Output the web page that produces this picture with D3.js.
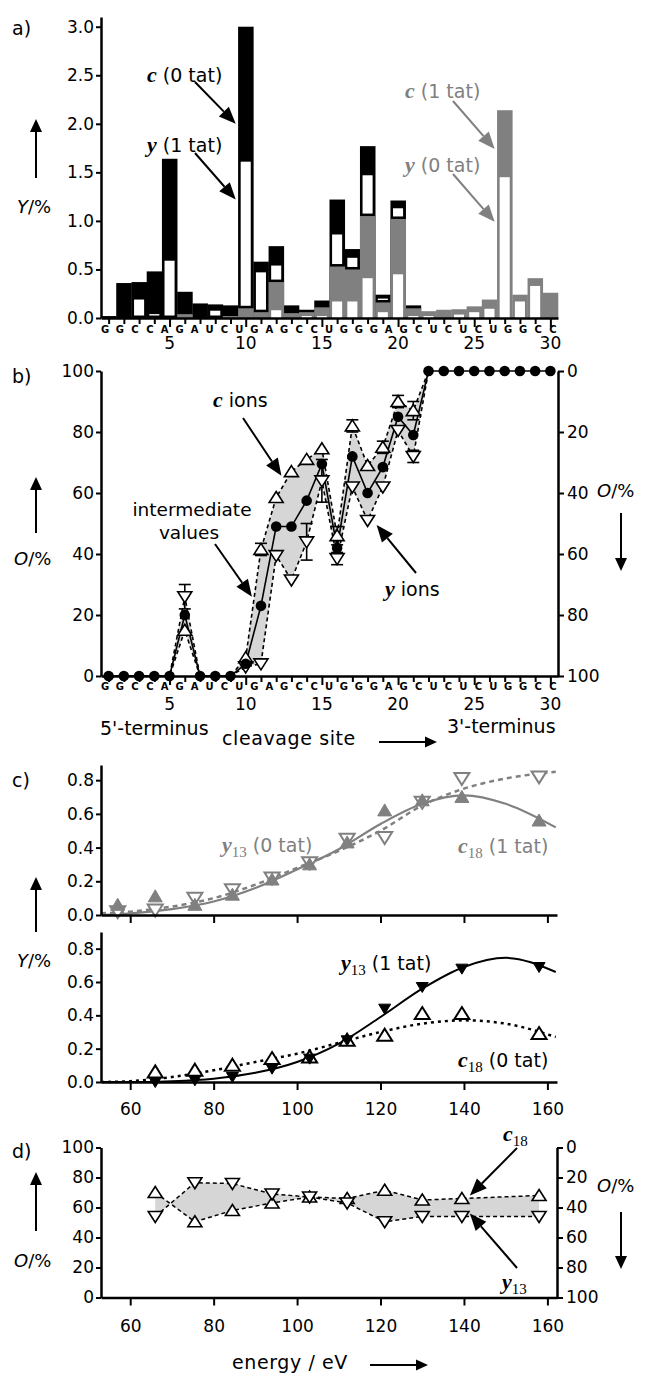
<!DOCTYPE html>
<meta charset="utf-8">
<style>
  body { margin: 0; background: #fff; }
  text { font-family: 'DejaVu Sans', sans-serif; }
</style>
<script src="https://d3js.org/d3.v7.min.js"></script>
<div id="chart"></div>
<script>
// ---------- data ----------
var seq = "GGCCAGAUCUGAGCCUGGGAGCUCUCUGGCC".split("");
var sites = d3.range(1, 31);
var siteLabels = [5, 10, 15, 20, 25, 30];

// a) yields Y/% per cleavage site
var c0tat = [0.02,0.36,0.37,0.48,1.64,0.27,0.15,0.14,0.13,3.0,0.58,0.74,0.13,0.085,0.18,1.22,0.71,1.77,0.24,1.21,0.13,0,0,0,0,0,0,0,0,0];
var y1tat = [0,0,0.19,0.04,0.59,0,0,0.075,0,1.61,0.47,0.54,0,0,0,0.86,0.62,1.47,0.20,1.13,0,0,0,0,0,0,0,0,0,0];
var c1tat = [0,0,0,0,0,0.04,0,0,0.02,0.10,0.06,0.37,0.05,0.06,0.11,0.53,0.50,1.05,0.16,1.02,0.10,0.07,0.085,0.09,0.12,0.19,2.14,0.24,0.41,0.26];
var y0tat = [0,0,0,0,0,0,0,0,0,0,0,0.08,0,0.02,0.02,0.17,0.17,0.41,0.06,0.45,0.02,0.02,0,0.035,0.06,0.095,1.45,0.17,0.33,0];
var aTicks = [0, 0.5, 1.0, 1.5, 2.0, 2.5, 3.0];

// b) occupancy O/% per cleavage site
var oInter = [0,0,0,0,0,20,0,0,0,4,23,49,49,57.5,69.5,42,72,60,68.5,85,79,100,100,100,100,100,100,100,100,100];
var oC = [0,0,0,0,0,15,0,0,0,6,41.5,58.5,67,71,74.5,46,82,69,75,90,87,100,100,100,100,100,100,100,100,100];
var oY = [0,0,0,0,0,26,0,0,0,3,4,39.5,31.5,44,64,38.5,62,51,62,80.5,72,100,100,100,100,100,100,100,100,100];
var cErr = [[11, 41.5, 2], [16, 46, 3], [17, 82, 2], [19, 75, 2], [20, 90, 2], [21, 87, 3]];
var yErr = [[6, 26, 4], [14, 44, 6], [15, 64, 7], [16, 38.5, 2], [21, 72, 2]];
var bTicks = [0, 20, 40, 60, 80, 100];

// c) yields vs energy
var energy = [57, 66, 75.5, 84.5, 94, 103, 112, 121, 130, 139.5, 158];
var c18_1tat = [0.06,0.11,0.06,0.12,0.21,0.30,0.43,0.62,0.68,0.70,0.56];
var y13_0tat = [0.02,0.03,0.10,0.15,0.22,0.31,0.45,0.46,0.67,0.81,0.82];
var y13_1tat = [null,0.0,0.01,0.03,0.08,0.14,0.25,0.44,0.57,0.68,0.69];
var c18_0tat = [null,0.06,0.07,0.10,0.14,0.15,0.25,0.28,0.41,0.41,0.29];
var fitE = [53, 60, 70, 80, 90, 100, 110, 120, 130, 140, 150, 162];
var fit_c18_1 = [0.0,0.01,0.035,0.08,0.16,0.27,0.39,0.54,0.66,0.71,0.66,0.52];
var fit_y13_0 = [0.01,0.02,0.05,0.10,0.18,0.28,0.38,0.50,0.65,0.75,0.81,0.85];
var fit_y13_1 = [0,0,0.005,0.02,0.055,0.12,0.23,0.39,0.56,0.69,0.745,0.66];
var fit_c18_0 = [0,0.005,0.03,0.07,0.12,0.17,0.235,0.30,0.35,0.37,0.35,0.27];
var cTicks = [0, 0.2, 0.4, 0.6, 0.8];
var eTicks = [60, 80, 100, 120, 140, 160];

// d) occupancy vs energy
var dE = [66, 75.5, 84.5, 94, 103, 112, 121, 130, 139.5, 158];
var dC18 = [70, 50.5, 58, 63, 67, 66, 71.5, 65, 66, 68];
var dY13 = [54, 76.5, 76, 69, 67, 63, 50.5, 54, 54, 54];

// ---------- setup ----------
var GRAY = "#808080", FILL = "#d6d6d6";
var svg = d3.select("#chart").append("svg")
    .attr("width", 646).attr("height", 1376)
    .style("background", "#fff");

function styleAxis(g, fs) {
  g.attr("font-family", "DejaVu Sans").attr("font-size", fs || 17);
  g.select(".domain").attr("stroke-width", 2.5);
  g.selectAll(".tick line").attr("stroke-width", 2);
  g.selectAll(".tick text").attr("fill", "#000");
}

function arrow(x1, y1, x2, y2, col, hl, hw, lw) {
  var a = Math.atan2(y2 - y1, x2 - x1);
  var bx = x2 - hl * Math.cos(a), by = y2 - hl * Math.sin(a);
  svg.append("line").attr("x1", x1).attr("y1", y1).attr("x2", bx).attr("y2", by)
    .attr("stroke", col).attr("stroke-width", lw || 2);
  var px = Math.sin(a) * hw / 2, py = Math.cos(a) * hw / 2;
  svg.append("path")
    .attr("d", "M" + x2 + "," + y2 + "L" + (bx + px) + "," + (by - py) + "L" + (bx - px) + "," + (by + py) + "Z")
    .attr("fill", col);
}

function rich(x, y, parts, col, fs) {
  var t = svg.append("text").attr("x", x).attr("y", y).attr("fill", col);
  var shift = 0;
  parts.forEach(function(p) {
    var s = t.append("tspan").text(p[0]);
    if (p[1] == "it") {
      s.attr("font-family", "Liberation Serif").attr("font-style", "italic")
        .attr("font-weight", "bold").attr("font-size", (fs || 19) + 3);
    } else if (p[1] == "sub") {
      s.attr("font-family", "Liberation Serif").attr("font-size", 15).attr("dy", 5);
      shift = 5;
    } else {
      s.attr("font-size", fs || 19);
      if (shift) { s.attr("dy", -shift); shift = 0; }
    }
  });
  return t;
}

function tri(x, y, w, h, up) {
  var s = up ? 1 : -1;
  return "M" + x + "," + (y - s * h * 0.55) + "L" + (x + w / 2) + "," + (y + s * h * 0.45) +
    "L" + (x - w / 2) + "," + (y + s * h * 0.45) + "Z";
}

// ---------- panel a ----------
var xa = d3.scaleLinear().domain([0.5, 30.5]).range([101, 558]);
var ya = d3.scaleLinear().domain([0, 3.1]).range([318, 17]);
var bw = xa(1) - xa(0);
var inner = bw * 0.66;
var letterX = d3.scalePoint().domain(d3.range(seq.length)).range([105, 553]);

var ga = svg.append("g");
ga.selectAll(".blk").data(sites).join("rect")
  .attr("x", function(d) { return xa(d - 0.5); }).attr("width", bw + 0.3)
  .attr("y", function(d) { return ya(c0tat[d - 1]); })
  .attr("height", function(d) { return ya(0) - ya(c0tat[d - 1]); })
  .attr("fill", "#000");
ga.selectAll(".w1").data(sites.filter(function(d) { return y1tat[d - 1] > c1tat[d - 1]; })).join("rect")
  .attr("x", function(d) { return xa(d) - inner / 2; }).attr("width", inner)
  .attr("y", function(d) { return ya(y1tat[d - 1]); })
  .attr("height", function(d) { return ya(c1tat[d - 1]) - 2.5 - ya(y1tat[d - 1]); })
  .attr("fill", "#fff");
ga.selectAll(".gr").data(sites).join("rect")
  .attr("x", function(d) { return xa(d - 0.5); }).attr("width", bw + 0.3)
  .attr("y", function(d) { return ya(c1tat[d - 1]); })
  .attr("height", function(d) { return ya(0) - ya(c1tat[d - 1]); })
  .attr("fill", GRAY);
ga.selectAll(".w0").data(sites).join("rect")
  .attr("x", function(d) { return xa(d) - inner / 2; }).attr("width", inner)
  .attr("y", function(d) { return ya(y0tat[d - 1]); })
  .attr("height", function(d) { return ya(0) - ya(y0tat[d - 1]); })
  .attr("fill", "#fff");

svg.append("g").attr("transform", "translate(101,0)")
  .call(d3.axisLeft(ya).tickValues(aTicks).tickFormat(d3.format(".1f")).tickSize(5).tickSizeOuter(0).tickPadding(2))
  .call(styleAxis);

function seqAxis(y0, numBase) {
  var g = svg.append("g").attr("transform", "translate(0," + y0 + ")")
    .call(d3.axisBottom(xa).tickValues(sites).tickFormat("").tickSize(6).tickSizeOuter(0))
    .call(styleAxis);
  g.selectAll(".tick line").attr("y2", function(d) { return d % 5 == 0 ? 9 : 6; });
  svg.append("g").selectAll("text").data(seq).join("text")
    .attr("x", function(d, i) { return letterX(i); }).attr("y", y0 + numBase[0])
    .attr("text-anchor", "middle").attr("font-family", "Liberation Serif")
    .attr("font-size", 10).attr("font-weight", "bold").text(function(d) { return d; });
  svg.append("g").selectAll("text").data(siteLabels).join("text")
    .attr("x", function(d) { return xa(d); }).attr("y", y0 + numBase[1])
    .attr("text-anchor", "middle").attr("font-size", 17).text(function(d) { return d; });
}
seqAxis(318, [15, 31]);

svg.append("text").attr("x", 12).attr("y", 35).attr("font-size", 19).text("a)");
arrow(36, 178, 36, 119, "#000", 13, 12, 2);
svg.append("text").attr("x", 17).attr("y", 213).attr("font-size", 18)
  .html('<tspan font-style="italic">Y</tspan>/%');

rich(147, 82, [["c", "it"], [" (0 tat)"]], "#000");
arrow(195, 82, xa(10) - 10, ya(2.0), "#000", 17, 14, 2);
rich(147, 152, [["y", "it"], [" (1 tat)"]], "#000");
arrow(195, 153, xa(10) - 10, ya(1.22), "#000", 17, 14, 2);
rich(405, 98, [["c", "it"], [" (1 tat)"]], GRAY);
arrow(453, 101, xa(27) - 10, ya(1.74), GRAY, 17, 14, 2);
rich(405, 172, [["y", "it"], [" (0 tat)"]], GRAY);
arrow(453, 174, xa(27) - 10, ya(0.99), GRAY, 17, 14, 2);

// ---------- panel b ----------
var yb = d3.scaleLinear().domain([0, 100]).range([676, 371]);
var ybR = d3.scaleLinear().domain([100, 0]).range([676, 371]);

svg.append("path").datum(sites.slice(0, 22))
  .attr("d", d3.area().x(function(d) { return xa(d); })
    .y0(function(d) { return yb(oY[d - 1]); }).y1(function(d) { return yb(oC[d - 1]); }))
  .attr("fill", FILL);
[oC, oY].forEach(function(arr) {
  svg.append("path").datum(sites.slice(0, 22))
    .attr("d", d3.line().x(function(d) { return xa(d); }).y(function(d) { return yb(arr[d - 1]); }))
    .attr("fill", "none").attr("stroke", "#000").attr("stroke-width", 1.6).attr("stroke-dasharray", "4,3");
});
svg.append("path").datum(sites)
  .attr("d", d3.line().x(function(d) { return xa(d); }).y(function(d) { return yb(oInter[d - 1]); }))
  .attr("fill", "none").attr("stroke", "#000").attr("stroke-width", 1.6);

var eg = svg.append("g").attr("stroke", "#000").attr("stroke-width", 1.6);
cErr.concat(yErr).forEach(function(e) {
  eg.append("line").attr("x1", xa(e[0])).attr("x2", xa(e[0]))
    .attr("y1", yb(e[1] - e[2])).attr("y2", yb(e[1] + e[2]));
  [e[1] - e[2], e[1] + e[2]].forEach(function(v) {
    eg.append("line").attr("x1", xa(e[0]) - 6).attr("x2", xa(e[0]) + 6)
      .attr("y1", yb(v)).attr("y2", yb(v));
  });
});

function inside(v) { return v > 0 && v < 100; }
svg.append("g").selectAll("path").data(sites.filter(function(d) { return inside(oC[d - 1]); })).join("path")
  .attr("d", function(d) { return tri(xa(d), yb(oC[d - 1]), 14, 11, true); })
  .attr("fill", "#fff").attr("stroke", "#000").attr("stroke-width", 1.6);
svg.append("g").selectAll("path").data(sites.filter(function(d) { return inside(oY[d - 1]); })).join("path")
  .attr("d", function(d) { return tri(xa(d), yb(oY[d - 1]), 14, 11, false); })
  .attr("fill", "#fff").attr("stroke", "#000").attr("stroke-width", 1.6);
svg.append("g").selectAll("circle").data(sites).join("circle")
  .attr("cx", function(d) { return xa(d); }).attr("cy", function(d) { return yb(oInter[d - 1]); })
  .attr("r", 5.3).attr("fill", "#000");

svg.append("g").attr("transform", "translate(101,0)")
  .call(d3.axisLeft(yb).tickValues(bTicks).tickSize(5).tickSizeOuter(0).tickPadding(2))
  .call(styleAxis);
svg.append("g").attr("transform", "translate(558,0)")
  .call(d3.axisRight(ybR).tickValues(bTicks).tickSize(6).tickSizeOuter(0).tickPadding(3))
  .call(styleAxis);
seqAxis(676, [14, 34]);

svg.append("text").attr("x", 12).attr("y", 383).attr("font-size", 19).text("b)");
arrow(36, 533, 36, 477, "#000", 13, 12, 2);
svg.append("text").attr("x", 14).attr("y", 565).attr("font-size", 18)
  .html('<tspan font-style="italic">O</tspan>/%');
arrow(621, 513, 621, 571, "#000", 13, 12, 2);
svg.append("text").attr("x", 597).attr("y", 497).attr("font-size", 18)
  .html('<tspan font-style="italic">O</tspan>/%');
svg.append("text").attr("x", 100).attr("y", 735).attr("font-size", 19).text("5'-terminus");
svg.append("text").attr("x", 222).attr("y", 745).attr("font-size", 19).attr("letter-spacing", 0.6).text("cleavage site");
arrow(379, 742, 437, 742, "#000", 12, 11, 2);
svg.append("text").attr("x", 447).attr("y", 733).attr("font-size", 19).text("3'-terminus");

rich(213, 407, [["c", "it"], [" ions"]], "#000");
arrow(243, 418, xa(13) - 10, yb(67) + 4, "#000", 17, 14, 2);
svg.append("text").attr("x", 192).attr("y", 516).attr("text-anchor", "middle").attr("font-size", 18.5).text("intermediate");
svg.append("text").attr("x", 189).attr("y", 539).attr("text-anchor", "middle").attr("font-size", 18.5).text("values");
arrow(215, 544, xa(11) - 9, yb(26), "#000", 17, 14, 2);
rich(385, 596, [["y", "it"], [" ions"]], "#000");
arrow(416, 573, xa(18) + 9, yb(49.5), "#000", 17, 14, 2);

// ---------- panel c ----------
var xe = d3.scaleLinear().domain([53, 162.3]).range([101, 557]);
var yc1 = d3.scaleLinear().domain([0, 0.89]).range([915, 765]);
var yc2 = d3.scaleLinear().domain([0, 0.9]).range([1082, 932]);

function fitLine(vals, ys, col, dash, lw) {
  svg.append("path").datum(fitE.map(function(e, i) { return [e, vals[i]]; }))
    .attr("d", d3.line().curve(d3.curveMonotoneX)
      .x(function(d) { return xe(d[0]); }).y(function(d) { return ys(d[1]); }))
    .attr("fill", "none").attr("stroke", col).attr("stroke-width", lw)
    .attr("stroke-dasharray", dash);
}
function markers(vals, ys, up, filled, col, w, h) {
  var pts = energy.map(function(e, i) { return [e, vals[i]]; }).filter(function(d) { return d[1] != null; });
  svg.append("g").selectAll("path").data(pts).join("path")
    .attr("d", function(d) { return tri(xe(d[0]), ys(d[1]), w, h, up); })
    .attr("fill", filled ? col : "#fff").attr("stroke", col).attr("stroke-width", filled ? 1 : 2);
}

fitLine(fit_y13_0, yc1, GRAY, "5,4", 2.5);
fitLine(fit_c18_1, yc1, GRAY, null, 2.2);
markers(y13_0tat, yc1, false, false, GRAY, 15, 12);
markers(c18_1tat, yc1, true, true, GRAY, 14, 12);

fitLine(fit_c18_0, yc2, "#000", "3,4", 2.5);
fitLine(fit_y13_1, yc2, "#000", null, 2);
markers(c18_0tat, yc2, true, false, "#000", 15, 12);
markers(y13_1tat, yc2, false, true, "#000", 12, 10);

svg.append("g").attr("transform", "translate(101,0)")
  .call(d3.axisLeft(yc1).tickValues(cTicks).tickFormat(d3.format(".1f")).tickSize(5).tickSizeOuter(0).tickPadding(2))
  .call(styleAxis);
svg.append("g").attr("transform", "translate(0,915)")
  .call(d3.axisBottom(xe).tickValues(eTicks).tickFormat("").tickSize(8).tickSizeOuter(0))
  .call(styleAxis);
svg.append("g").attr("transform", "translate(101,0)")
  .call(d3.axisLeft(yc2).tickValues(cTicks).tickFormat(d3.format(".1f")).tickSize(5).tickSizeOuter(0).tickPadding(2))
  .call(styleAxis);
svg.append("g").attr("transform", "translate(0,1082)")
  .call(d3.axisBottom(xe).tickValues(eTicks).tickSize(8).tickSizeOuter(0).tickPadding(13))
  .call(styleAxis);

svg.append("text").attr("x", 12).attr("y", 787).attr("font-size", 19).text("c)");
arrow(36, 932, 36, 877, "#000", 13, 12, 2);
svg.append("text").attr("x", 17).attr("y", 967).attr("font-size", 18)
  .html('<tspan font-style="italic">Y</tspan>/%');
rich(222, 852, [["y", "it"], ["13", "sub"], [" (0 tat)"]], GRAY);
rich(458, 853, [["c", "it"], ["18", "sub"], [" (1 tat)"]], GRAY);
rich(341, 970, [["y", "it"], ["13", "sub"], [" (1 tat)"]], "#000");
rich(458, 1067, [["c", "it"], ["18", "sub"], [" (0 tat)"]], "#000");

// ---------- panel d ----------
var yd = d3.scaleLinear().domain([0, 100]).range([1297.5, 1147.5]);
var ydR = d3.scaleLinear().domain([100, 0]).range([1297.5, 1147.5]);

svg.append("path").datum(dE.map(function(e, i) { return i; }))
  .attr("d", d3.area().x(function(i) { return xe(dE[i]); })
    .y0(function(i) { return yd(dY13[i]); }).y1(function(i) { return yd(dC18[i]); }))
  .attr("fill", FILL);
[dC18, dY13].forEach(function(arr) {
  svg.append("path").datum(arr)
    .attr("d", d3.line().x(function(v, i) { return xe(dE[i]); }).y(function(v) { return yd(v); }))
    .attr("fill", "none").attr("stroke", "#000").attr("stroke-width", 1.5).attr("stroke-dasharray", "4,3");
});
svg.append("g").selectAll("path").data(dE).join("path")
  .attr("d", function(e, i) { return tri(xe(e), yd(dC18[i]), 14, 11, true); })
  .attr("fill", "#fff").attr("stroke", "#000").attr("stroke-width", 1.6);
svg.append("g").selectAll("path").data(dE).join("path")
  .attr("d", function(e, i) { return tri(xe(e), yd(dY13[i]), 14, 11, false); })
  .attr("fill", "#fff").attr("stroke", "#000").attr("stroke-width", 1.6);

svg.append("g").attr("transform", "translate(101,0)")
  .call(d3.axisLeft(yd).tickValues(bTicks).tickSize(5).tickSizeOuter(0).tickPadding(2))
  .call(styleAxis);
svg.append("g").attr("transform", "translate(557,0)")
  .call(d3.axisRight(ydR).tickValues(bTicks).tickSize(6).tickSizeOuter(0).tickPadding(3))
  .call(styleAxis);
svg.append("g").attr("transform", "translate(0,1297.5)")
  .call(d3.axisBottom(xe).tickValues(eTicks).tickSize(8).tickSizeOuter(0).tickPadding(14))
  .call(styleAxis);

svg.append("text").attr("x", 12).attr("y", 1158).attr("font-size", 19).text("d)");
arrow(36, 1231, 36, 1172, "#000", 13, 12, 2);
svg.append("text").attr("x", 14).attr("y", 1267).attr("font-size", 18)
  .html('<tspan font-style="italic">O</tspan>/%');
arrow(621, 1212, 621, 1269, "#000", 13, 12, 2);
svg.append("text").attr("x", 597).attr("y", 1192).attr("font-size", 18)
  .html('<tspan font-style="italic">O</tspan>/%');
svg.append("text").attr("x", 232).attr("y", 1369).attr("font-size", 19).attr("letter-spacing", 0.6).text("energy / eV");
arrow(370, 1365, 428, 1365, "#000", 12, 11, 2);

rich(503, 1141, [["c", "it"], ["18", "sub"]], "#000");
arrow(517, 1148, xe(139.5) + 8, yd(dC18[8]) - 3, "#000", 17, 14, 2);
rich(502, 1289, [["y", "it"], ["13", "sub"]], "#000");
arrow(517, 1268, xe(139.5) + 8, yd(dY13[8]) - 3, "#000", 17, 14, 2);
</script>
